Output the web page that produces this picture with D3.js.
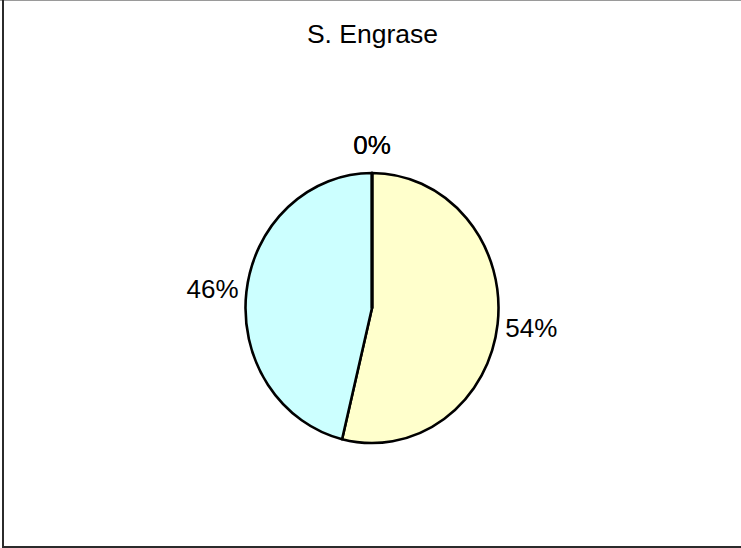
<!DOCTYPE html>
<html>
<head>
<meta charset="utf-8">
<script src="https://cdn.jsdelivr.net/npm/d3@7"></script>
<style>
  html, body { margin: 0; padding: 0; background: #fff; }
  svg { display: block; }
  text { font-family: "Liberation Sans", Arial, sans-serif; fill: #000; }
</style>
</head>
<body>
<svg id="chart" width="741" height="548"></svg>
<script>
// Chart data
const title = "S. Engrase";
const categories = ["Categoría 1", "Categoría 2", "Categoría 3", "Categoría 4"];
const values = [53.8, 46.2, 0, 0];
const colors = ["#FFFFCC", "#CCFFFF", "#9999FF", "#993366"];

const W = 741, H = 548;
const cx = 372, cy = 308;   // pie centre
const ry = 135;             // vertical radius
const rx = 126.5;           // horizontal radius (pie is slightly squashed)
const labelSize = 26;

const svg = d3.select("#chart");

// frame
svg.append("line").attr("x1", 0).attr("x2", W).attr("y1", 0.5).attr("y2", 0.5)
  .attr("stroke", "#9a9a9a").attr("stroke-width", 1);
svg.append("line").attr("x1", 3).attr("x2", 3).attr("y1", 0).attr("y2", H)
  .attr("stroke", "#2b2b2b").attr("stroke-width", 2);
svg.append("line").attr("x1", 2).attr("x2", W).attr("y1", 547).attr("y2", 547)
  .attr("stroke", "#2b2b2b").attr("stroke-width", 2);

// title
svg.append("text")
  .attr("x", 372.5).attr("y", 43)
  .attr("text-anchor", "middle")
  .style("font-size", "26.5px")
  .text(title);

const pie = d3.pie().sort(null).value(d => d)(values);
const arc = d3.arc().innerRadius(0).outerRadius(ry);

const g = svg.append("g")
  .attr("transform", `translate(${cx},${cy}) scale(${rx / ry},1)`);

g.selectAll("path")
  .data(pie)
  .join("path")
  .attr("d", arc)
  .attr("fill", (d, i) => colors[i])
  .attr("stroke", "#000")
  .attr("stroke-width", 2.6)
  .attr("stroke-linejoin", "round")
  .attr("vector-effect", "non-scaling-stroke");

// percentage labels placed just outside the rim
const total = d3.sum(values);
const fmt = v => Math.round(v / total * 100) + "%";
const labels = svg.append("g");
pie.forEach((d, i) => {
  const a = (d.startAngle + d.endAngle) / 2;
  const s = Math.sin(a), c = Math.cos(a);
  const t = labels.append("text")
    .style("font-size", labelSize + "px")
    .attr("text-anchor", "middle")
    .text(fmt(values[i]));
  const w = t.node().getComputedTextLength();
  const hx = w / 2, hy = 9;
  const x = cx + s * (rx + 8) + s * hx;
  const y = cy - c * (ry + 19) - c * hy;
  t.attr("x", x).attr("y", y + 0.358 * labelSize);
});
</script>
</body>
</html>
